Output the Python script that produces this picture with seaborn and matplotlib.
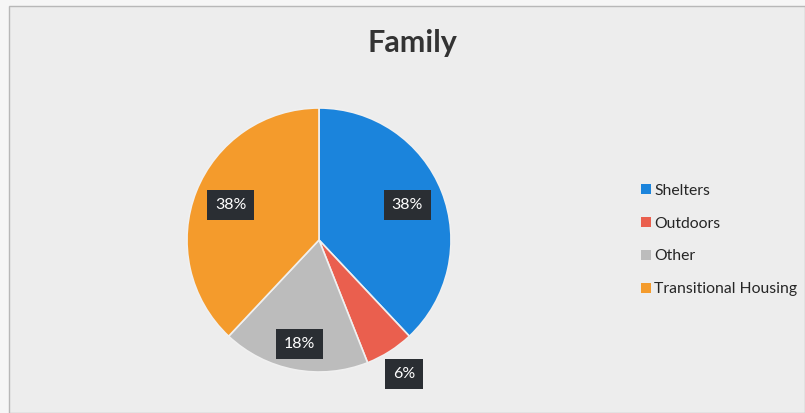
import numpy as np
import matplotlib
matplotlib.use("Agg")
import matplotlib.pyplot as plt
import matplotlib.patches as mpatches
import seaborn as sns

# Where families were staying, share of total
categories = ["Shelters", "Outdoors", "Other", "Transitional Housing"]
shares = [38, 6, 18, 38]
colors = ["#1b84dc", "#ea5f4e", "#bcbcbc", "#f49b2c"]
title = "Family"

sns.set_theme(style="white")
plt.rcParams["font.family"] = ["Lato", "DejaVu Sans"]

W, H = 805, 413
fig = plt.figure(figsize=(W / 100, H / 100), dpi=100)
fig.patch.set_facecolor("#f6f6f6")

# light panel with a thin frame, kept behind the pie
panel = mpatches.Rectangle((9 / W, 0), (W - 9) / W, (H - 6) / H,
                           transform=fig.transFigure, facecolor="#ededed",
                           edgecolor="#b8b8b8", linewidth=1.0, zorder=-10)
fig.patches.append(panel)

cx, cy, r = 319, 240, 132
ax = fig.add_axes([(cx - r) / W, (H - cy - r) / H, 2 * r / W, 2 * r / H])
ax.set_zorder(5)
ax.patch.set_visible(False)
wedges, _ = ax.pie(shares, colors=colors, startangle=90, counterclock=False,
                   radius=1.0, wedgeprops=dict(linewidth=1.2, edgecolor="#f0f0f0"))
ax.set_xlim(-1, 1)
ax.set_ylim(-1, 1)
ax.set_aspect("equal")
ax.axis("off")

# percentage labels on dark boxes
label_radius = [0.72, 1.2, 0.80, 0.72]
for w, val, lr in zip(wedges, shares, label_radius):
    mid = np.deg2rad((w.theta1 + w.theta2) / 2)
    ax.text(lr * np.cos(mid), lr * np.sin(mid), f"{val}%", ha="center", va="center",
            color="white", fontsize=11.5, clip_on=False,
            bbox=dict(boxstyle="square,pad=0.5", facecolor="#2a2e33", edgecolor="none"))

fig.text(412 / W, 1 - 43 / H, title, ha="center", va="center",
         fontsize=22, fontweight="bold", color="#333333")

handles = [mpatches.Patch(facecolor=c, edgecolor="none") for c in colors]
fig.legend(handles, categories, loc="center left",
           bbox_to_anchor=(627 / W, 1 - 240 / H), frameon=False,
           fontsize=11.3, handlelength=0.6, handleheight=0.6,
           handletextpad=0.25, labelspacing=1.2, labelcolor="#262626")

fig.savefig("out.png", dpi=100, facecolor=fig.get_facecolor())
